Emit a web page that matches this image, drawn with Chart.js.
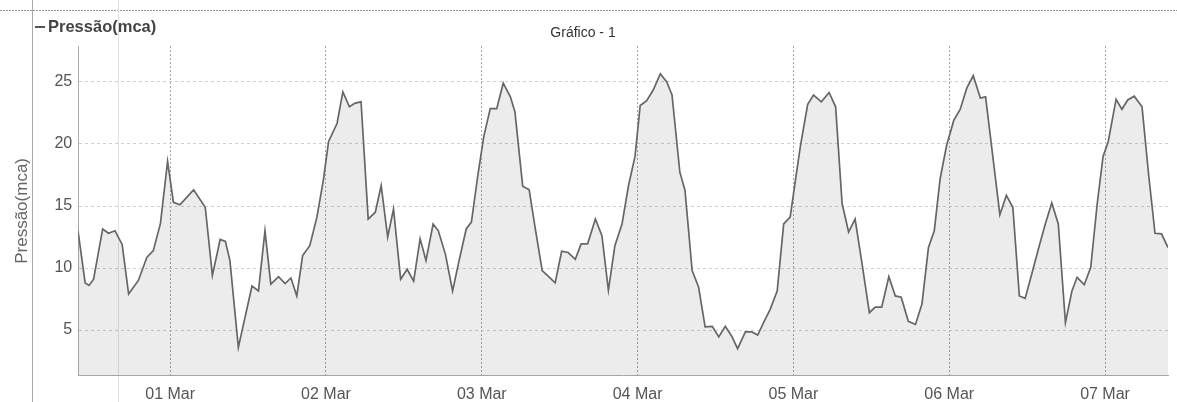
<!DOCTYPE html>
<html>
<head>
<meta charset="utf-8">
<script src="https://cdn.jsdelivr.net/npm/chart.js@4/dist/chart.umd.min.js"></script>
<style>
  html, body { margin: 0; padding: 0; background: #fff; }
  #wrap { width: 1177px; height: 402px; position: relative; }
</style>
</head>
<body>
<div id="wrap"><canvas id="pressure-chart"></canvas></div>
<script>
// hours counted from 28 Feb 00:00
const hours = [
  9.8, 10.9, 11.5, 12.2, 13.6, 14.5, 15.5, 16.6, 17.6, 19.1, 20.4, 21.4, 22.5, 23.6, 24.5, 25.5, 27.6, 29.4, 30.5, 31.7, 32.5, 33.2, 34.5, 36.6, 37.6, 38.6,
  39.5, 40.7, 41.7, 42.6, 43.5, 44.4, 45.5, 46.6, 47.6, 48.4, 49.7, 50.6, 51.6, 52.5, 53.4, 54.5, 55.6, 56.5, 57.5, 58.4, 59.5, 60.5, 61.5, 62.5, 63.4, 64.5, 65.3, 66.4,
  67.5, 68.5, 69.6, 70.4, 71.4, 72.3, 73.3, 74.3, 75.3, 76.4, 77.1, 78.3, 79.3, 80.2, 81.3, 82.3, 83.3, 84.3, 85.3, 86.4, 87.3, 88.3, 89.5, 90.5, 91.5, 92.5, 93.6, 94.6,
  95.6, 96.4, 97.4, 98.4, 99.5, 100.5, 101.3, 102.5, 103.3, 104.4, 105.4, 106.4, 107.5, 108.5, 109.5, 110.5, 111.4, 112.6, 113.6, 114.5, 115.4, 116.4, 117.5, 118.5, 119.5, 120.3, 121.1, 122.2, 123.1,
  124.3, 125.5, 126.5, 127.5, 128.5, 129.5, 130.5, 131.7, 132.6, 133.6, 134.7, 135.7, 136.6, 137.7, 138.8, 139.8, 140.8, 141.7, 142.6, 143.6, 144.7, 145.7, 146.7, 147.7, 148.8, 149.6,
  151.8, 152.8, 153.8, 154.8, 155.7, 156.7, 157.8, 158.8, 159.8, 160.8, 161.9, 162.9, 163.7, 164.8, 165.8, 166.8, 167.7, 168.5, 169.7, 170.6, 171.5, 172.5, 173.7, 174.7, 175.7, 176.7, 177.7
];
const pressure = [
  13.0, 8.8, 8.6, 9.1, 13.15, 12.8, 13.0, 11.9, 7.9, 9.0, 10.85, 11.4, 13.6, 18.6, 15.3, 15.1, 16.3, 14.9, 9.4, 12.3, 12.15, 10.6, 3.6, 8.55, 8.15, 13.0,
  8.7, 9.3, 8.75, 9.2, 7.75, 11.0, 11.8, 14.1, 17.1, 20.2, 21.65, 24.2, 23.0, 23.3, 23.4, 13.95, 14.5, 16.65, 12.5, 14.75, 9.1, 9.9, 8.95, 12.35, 10.6, 13.55, 13.0, 11.1,
  8.15, 10.6, 13.15, 13.7, 17.5, 20.6, 22.85, 22.85, 24.9, 23.8, 22.6, 16.6, 16.3, 13.3, 9.8, 9.3, 8.8, 11.35, 11.25, 10.7, 11.95, 11.95, 13.95, 12.6, 8.2, 11.8, 13.55, 16.65,
  19.0, 23.1, 23.5, 24.35, 25.65, 25.0, 23.95, 17.75, 16.25, 9.8, 8.45, 5.25, 5.3, 4.45, 5.3, 4.5, 3.5, 4.85, 4.85, 4.6, 5.6, 6.65, 8.15, 13.55, 14.1, 17.05, 19.9, 23.2, 23.95,
  23.4, 24.15, 23.0, 15.2, 12.9, 13.95, 10.6, 6.4, 6.85, 6.85, 9.3, 7.75, 7.65, 5.7, 5.45, 7.1, 11.65, 13.0, 17.2, 19.9, 21.9, 22.8, 24.5, 25.5, 23.7, 23.8,
  14.3, 15.85, 14.9, 7.75, 7.55, 9.5, 11.65, 13.55, 15.25, 13.55, 5.6, 8.15, 9.25, 8.65, 10.05, 15.2, 19.0, 20.2, 23.6, 22.8, 23.55, 23.85, 23.0, 17.6, 12.8, 12.75, 11.65
];
const dayTicks = [24, 48, 72, 96, 120, 144, 168];
const dayLabels = ['01 Mar', '02 Mar', '03 Mar', '04 Mar', '05 Mar', '06 Mar', '07 Mar'];
const pressureTicks = [5, 10, 15, 20, 25];

Chart.defaults.font.family = "'Liberation Sans', Arial, sans-serif";

// title, legend and the scanned frame lines
const header = {
  id: 'header',
  beforeDraw(chart) {
    const ctx = chart.ctx;
    ctx.save();
    ctx.strokeStyle = '#999';
    ctx.lineWidth = 1;
    ctx.setLineDash([2, 1]);
    ctx.beginPath();
    ctx.moveTo(0, 10.5); ctx.lineTo(1177, 10.5);
    ctx.stroke();
    ctx.setLineDash([]);
    ctx.strokeStyle = '#aaa';
    ctx.beginPath();
    ctx.moveTo(32.5, 0); ctx.lineTo(32.5, 402);
    ctx.stroke();
    ctx.strokeStyle = '#e2e2e2';
    ctx.beginPath();
    ctx.moveTo(118.5, 0); ctx.lineTo(118.5, 402);
    ctx.stroke();
    ctx.restore();
  },
  afterDraw(chart) {
    const ctx = chart.ctx;
    ctx.save();
    ctx.strokeStyle = '#555';
    ctx.lineWidth = 2;
    ctx.beginPath();
    ctx.moveTo(35, 27); ctx.lineTo(45, 27);
    ctx.stroke();
    ctx.fillStyle = '#444';
    ctx.textBaseline = 'middle';
    ctx.font = "bold 16.5px 'Liberation Sans', Arial, sans-serif";
    ctx.fillText('Pressão(mca)', 48, 27);
    ctx.fillStyle = '#333';
    ctx.textAlign = 'center';
    ctx.font = "14px 'Liberation Sans', Arial, sans-serif";
    ctx.fillText('Gráfico - 1', 583, 33);
    ctx.restore();
  }
};

const pressureChart = new Chart(document.getElementById('pressure-chart'), {
  type: 'line',
  data: {
    datasets: [{
      label: 'Pressão(mca)',
      data: hours.map((h, i) => ({ x: h, y: pressure[i] })),
      borderColor: '#666',
      borderWidth: 1.7,
      backgroundColor: 'rgba(0, 0, 0, 0.075)',
      fill: 'start',
      pointRadius: 0,
      tension: 0
    }]
  },
  options: {
    responsive: true,
    maintainAspectRatio: false,
    animation: false,
    layout: { padding: { left: 8, right: 9, top: 46, bottom: -11 } },
    plugins: {
      legend: { display: false },
      title: { display: false },
      tooltip: { enabled: false }
    },
    scales: {
      x: {
        type: 'linear',
        min: 9.83,
        max: 177.7,
        afterBuildTicks: (scale) => { scale.ticks = dayTicks.map(v => ({ value: v })); },
        ticks: {
          autoSkip: false,
          maxRotation: 0,
          padding: 9,
          color: '#555',
          font: { size: 16 },
          callback: (v) => dayLabels[dayTicks.indexOf(v)]
        },
        grid: { color: '#a5a5a5', drawTicks: false },
        border: { color: '#aaa', dash: [2, 2] }
      },
      y: {
        min: 1.31,
        max: 27.9,
        afterBuildTicks: (scale) => { scale.ticks = pressureTicks.map(v => ({ value: v })); },
        ticks: { padding: 6, color: '#555', font: { size: 16 } },
        grid: { color: '#cfcfcf', drawTicks: false },
        border: { color: '#aaa', dash: [3, 3] },
        title: {
          display: true,
          text: 'Pressão(mca)',
          color: '#666',
          font: { size: 17 },
          padding: { top: 4, bottom: 16 }
        }
      }
    }
  },
  plugins: [header]
});
</script>
</body>
</html>
